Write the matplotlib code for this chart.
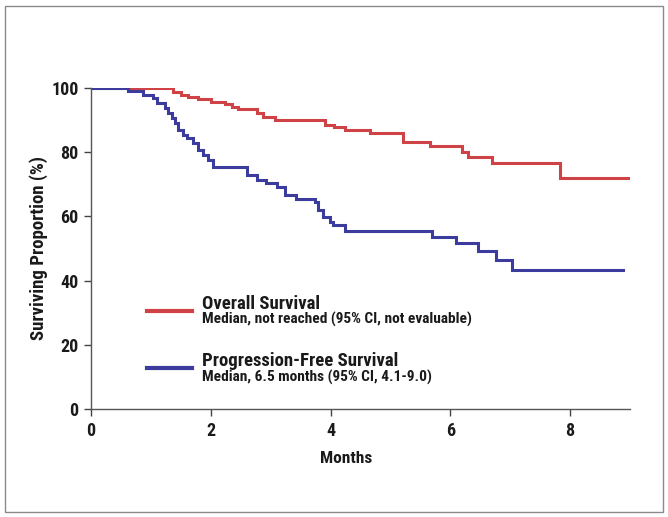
import matplotlib
matplotlib.use("Agg")
import matplotlib.pyplot as plt
from matplotlib.patches import Rectangle
from matplotlib.lines import Line2D

plt.rcParams['font.family'] = ['Roboto Condensed', 'PT Sans Narrow', 'DejaVu Sans']

# Overall survival (Kaplan-Meier steps)
os_months = [0, 1.37, 1.51, 1.62, 1.79, 2.01, 2.24, 2.35, 2.46, 2.77, 2.88, 3.07,
             3.91, 4.05, 4.24, 4.66, 5.21, 5.66, 6.19, 6.30, 6.69, 7.83, 9.0]
os_surv = [100, 98.8, 97.8, 97.3, 96.5, 95.7, 95.0, 94.2, 93.4, 92.1, 91.1, 90.0,
           88.5, 88.0, 87.0, 85.9, 83.3, 81.9, 80.2, 78.4, 76.5, 71.9, 71.9]

# Progression-free survival
pfs_months = [0, 0.62, 0.87, 1.04, 1.10, 1.24, 1.29, 1.35, 1.40, 1.46, 1.54, 1.60,
              1.71, 1.79, 1.87, 1.96, 2.04, 2.60, 2.77, 2.93, 3.10, 3.24, 3.43,
              3.74, 3.79, 3.87, 3.99, 4.04, 4.24, 5.69, 6.10, 6.47, 6.77, 7.03, 8.88]
pfs_surv = [100, 99.1, 97.9, 96.8, 95.2, 93.7, 92.1, 90.6, 89.0, 86.9, 85.4, 84.3,
            82.8, 80.7, 79.1, 77.6, 75.5, 72.9, 71.3, 70.3, 69.3, 66.7, 65.3,
            64.6, 62.0, 59.9, 58.3, 57.3, 55.3, 53.7, 51.6, 49.2, 46.4, 43.3, 43.3]

x_ticks = [0, 2, 4, 6, 8]
y_ticks = [0, 20, 40, 60, 80, 100]

legend_titles = ["Overall Survival", "Progression-Free Survival"]
legend_notes = ["Median, not reached (95% CI, not evaluable)",
                "Median, 6.5 months (95% CI, 4.1-9.0)"]

RED = '#cf4347'
BLUE = '#3c3c9e'
TXT = '#1a1a1a'

W, H = 668, 517
fig = plt.figure(figsize=(W / 100, H / 100), dpi=100)

# outer frame
fig.patches.append(Rectangle((5 / W, 5 / H), 658 / W, 506 / H, transform=fig.transFigure,
                             fill=False, edgecolor='#8a8a8a', linewidth=1.0))

ax = fig.add_axes([91 / W, 1 - 409 / H, (630 - 91) / W, (409 - 88) / H])
ax.step(os_months, os_surv, where='post', color=RED, linewidth=2.2, solid_joinstyle='miter')
ax.step(pfs_months, pfs_surv, where='post', color=BLUE, linewidth=2.2, solid_joinstyle='miter')

ax.set_xlim(0, 9)
ax.set_ylim(0, 100)
ax.set_xticks(x_ticks)
ax.set_yticks(y_ticks)
ax.set_xticklabels([str(v) for v in x_ticks], fontsize=13, fontweight='bold', color=TXT)
ax.set_yticklabels([str(v) for v in y_ticks], fontsize=13, fontweight='bold', color=TXT)
ax.tick_params(direction='out', length=5, width=1, colors='#444444', pad=4)
for lab in ax.get_xticklabels() + ax.get_yticklabels():
    lab.set_color(TXT)
for s in ['top', 'right']:
    ax.spines[s].set_visible(False)
for s in ['left', 'bottom']:
    ax.spines[s].set_color('#555555')
    ax.spines[s].set_linewidth(1.0)

ax.set_xlabel("Months", fontsize=12.5, fontweight='bold', color=TXT)
ax.set_ylabel("Surviving Proportion (%)", fontsize=13.5, fontweight='bold', color=TXT)
ax.xaxis.set_label_coords((346 - 91) / 539, (409 - 451) / 321)
ax.yaxis.set_label_coords((48 - 91) / 539, 0.5)

def fx(px):
    return px / W

def fy(py):
    return 1 - py / H

# custom legend
line_y = [311, 368]
title_base = [309, 366]
note_base = [324, 382]
for i, (col, title, note) in enumerate(zip([RED, BLUE], legend_titles, legend_notes)):
    fig.add_artist(Line2D([fx(147), fx(192)], [fy(line_y[i]), fy(line_y[i])],
                          transform=fig.transFigure, color=col, linewidth=3.0))
    fig.text(fx(202), fy(title_base[i]), title, fontsize=13.5, fontweight='bold', color=TXT,
             va='baseline', ha='left')
    fig.text(fx(202), fy(note_base[i]), note, fontsize=11.1, fontweight='bold', color=TXT,
             va='baseline', ha='left')

fig.savefig("out.png", dpi=100, facecolor='white')
